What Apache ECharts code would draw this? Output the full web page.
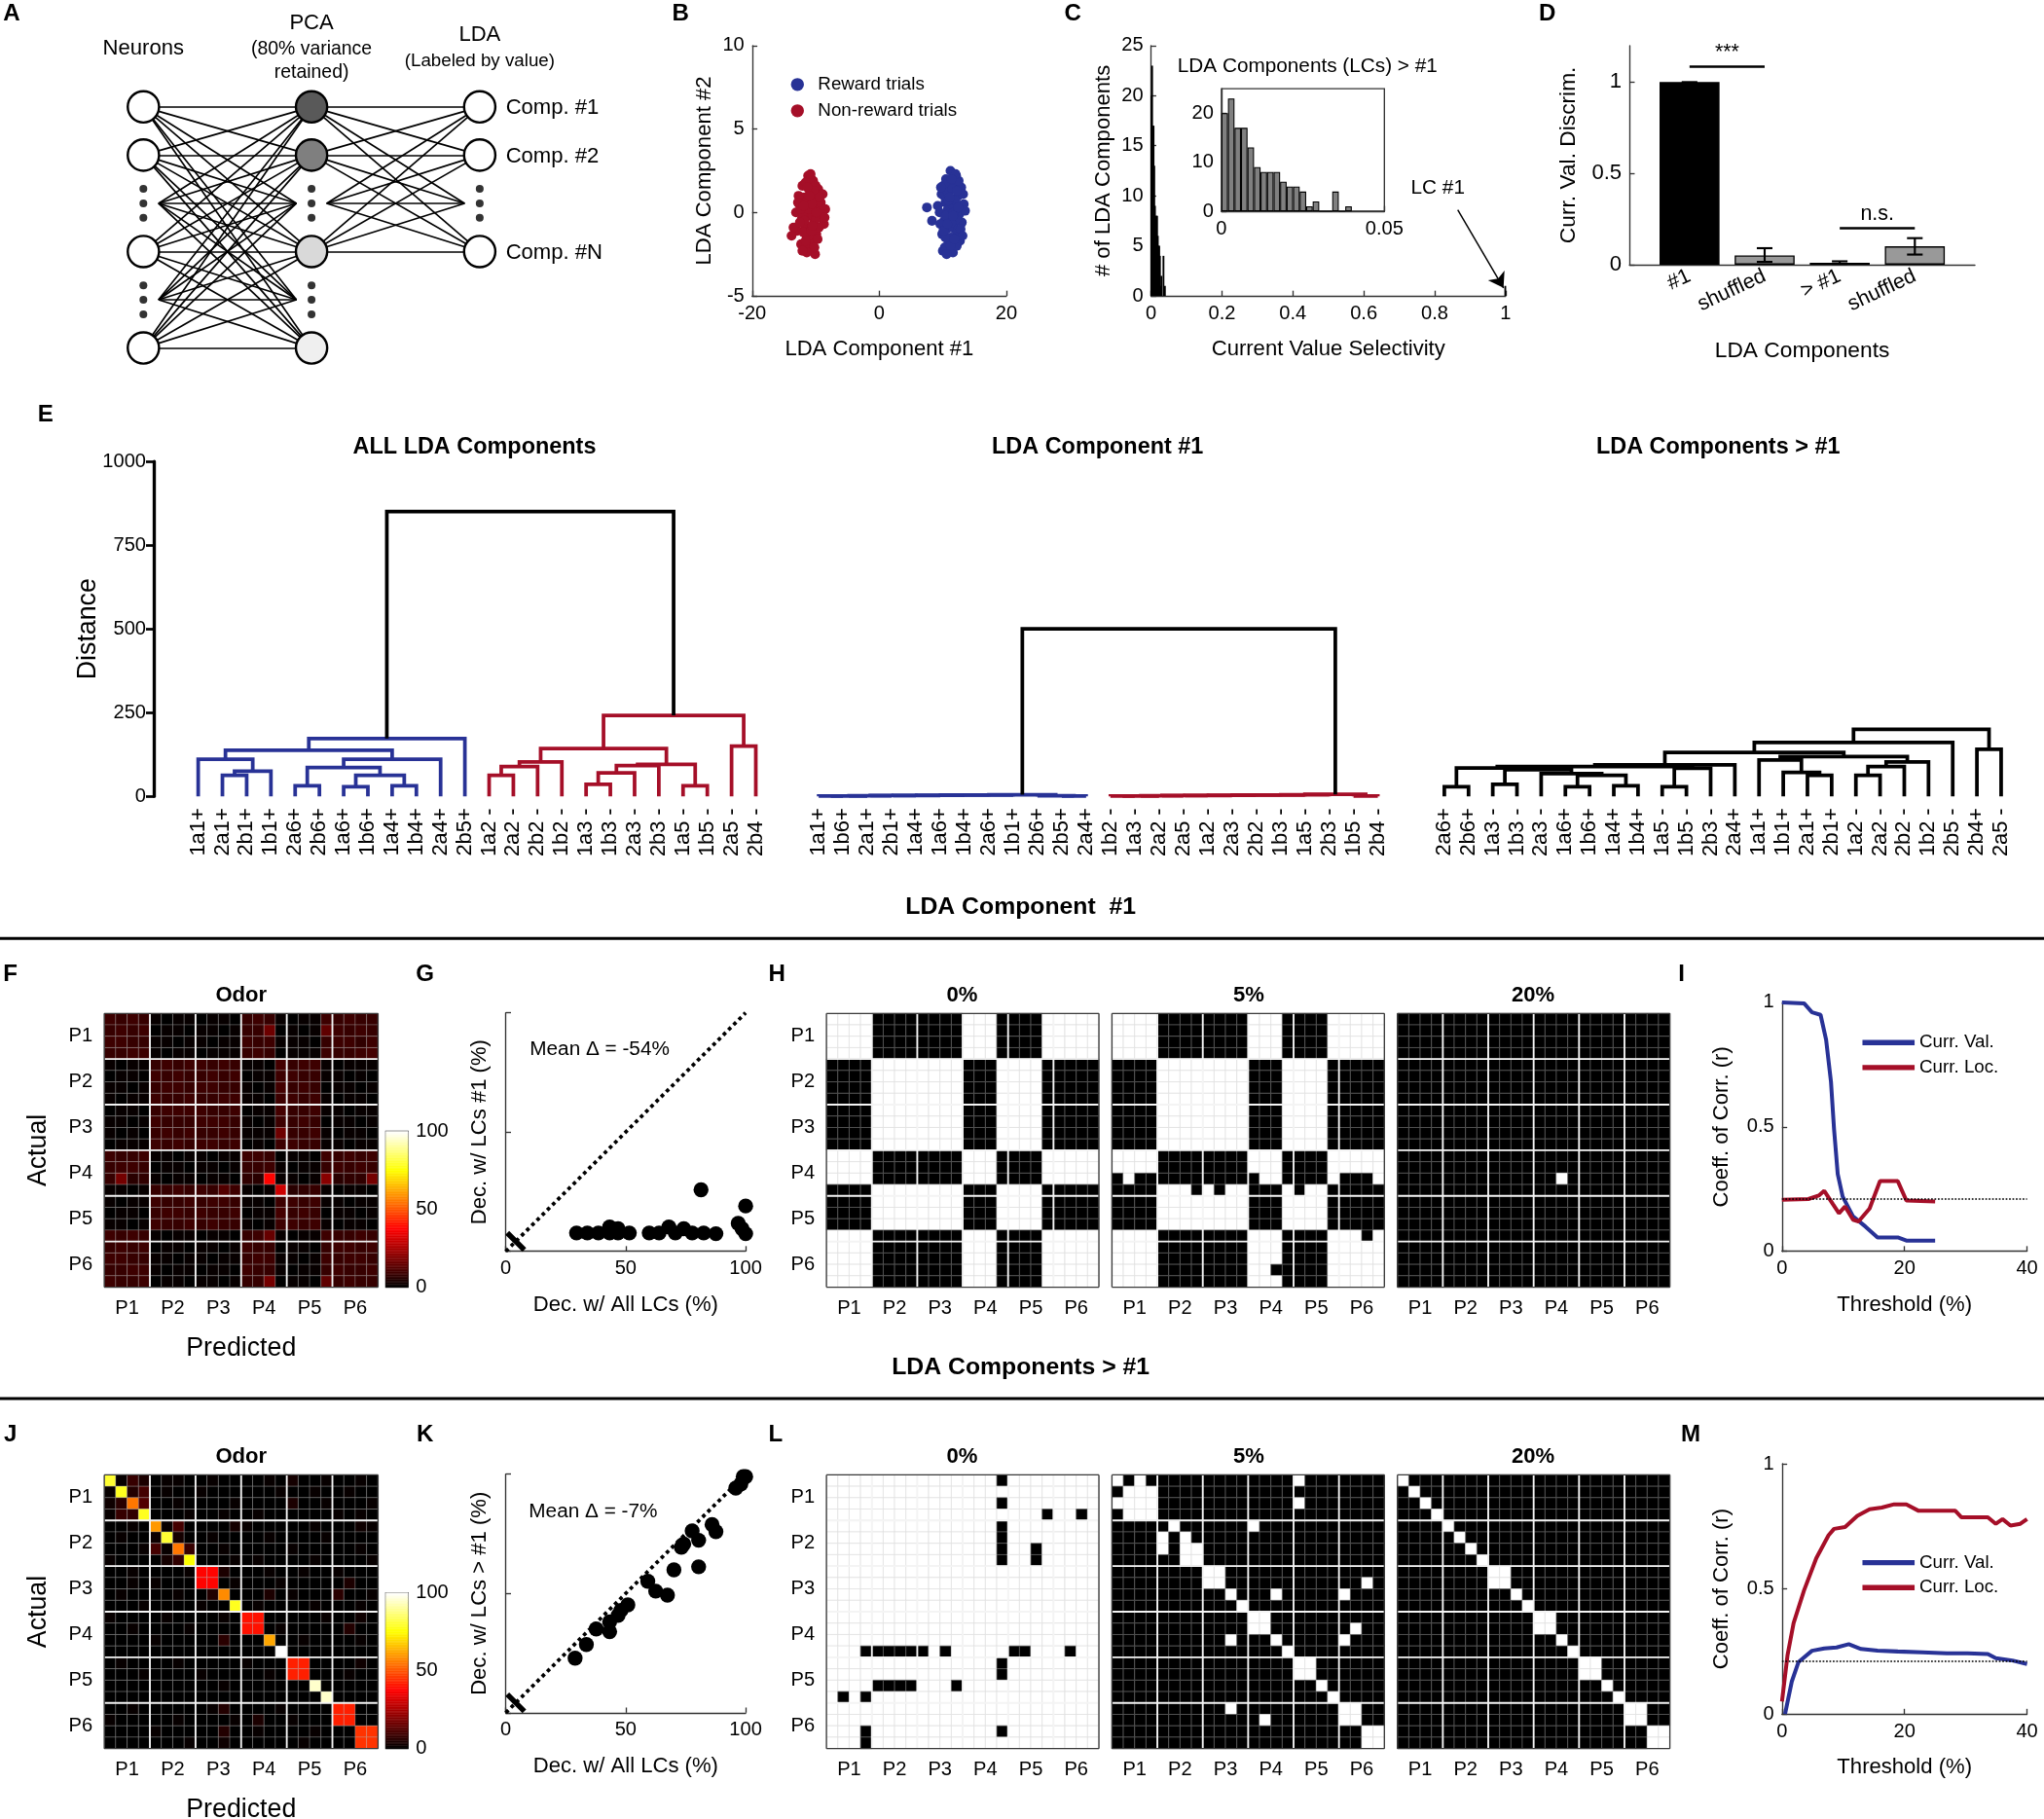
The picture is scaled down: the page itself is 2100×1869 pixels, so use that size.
<!DOCTYPE html>
<html><head><meta charset="utf-8">
<script src="https://cdn.jsdelivr.net/npm/echarts@6/dist/echarts.min.js"></script>
<style>html,body{margin:0;padding:0;background:#fff}#c{width:2100px;height:1869px}</style>
</head><body><div id="c"></div>
<script>
// ================= DATA =================
// Panel B: LDA projections
const blueTrials = [[11.2,2.5],[12.1,2.2],[10.5,2.0],[11.8,1.8],[10.1,1.6],[12.9,1.5],[11.0,1.3],[9.8,1.1],[12.4,1.0],[11.5,0.8],[10.4,0.6],[13.3,0.5],[11.9,0.3],[10.8,0.2],[7.5,0.3],[8.3,-0.5],[9.5,0.0],[12.6,-0.1],[11.1,-0.3],[10.2,-0.5],[13.0,-0.6],[11.7,-0.8],[10.6,-1.0],[12.3,-1.2],[9.9,-1.3],[11.3,-1.5],[10.9,-1.8],[12.7,-1.7],[10.3,-2.1],[11.6,-2.4],[12.2,-2.0],[10.0,-2.3],[11.4,0.5],[10.7,1.7],[12.0,0.7],[9.6,-0.7],[11.9,-1.0],[10.5,-0.2],[13.5,0.1],[11.0,-0.9],[12.5,1.9],[10.2,1.0],[11.7,0.0],[9.2,0.4],[12.8,-1.0],[11.2,-2.0],[10.8,1.2],[12.1,-0.4],[10.4,-1.5],[11.5,1.4],[13.1,-1.4],[10.9,0.7],[11.8,-1.6],[9.7,1.5],[12.4,0.3],[11.3,-0.6],[10.6,-2.5],[12.0,2.3],[11.1,0.9],[13.2,1.1],[10.1,-1.1],[11.6,-0.2],[12.2,1.3],[10.7,-0.7],[11.4,2.0]];
const redTrials = [[-11.2,2.2],[-10.4,1.9],[-12.1,1.6],[-9.6,1.4],[-10.9,1.2],[-11.8,0.9],[-8.9,1.1],[-10.2,0.8],[-12.6,0.5],[-11.5,0.4],[-9.8,0.3],[-10.6,0.1],[-13.1,0.0],[-11.0,-0.2],[-9.3,-0.3],[-12.2,-0.4],[-10.3,-0.6],[-11.7,-0.8],[-8.7,-0.7],[-10.8,-1.0],[-12.9,-1.1],[-9.9,-1.3],[-11.4,-1.5],[-10.5,-1.8],[-12.3,-1.9],[-11.0,-2.2],[-10.1,-2.5],[-10.7,2.0],[-11.6,1.8],[-9.2,0.6],[-13.5,-0.9],[-12.7,1.0],[-10.0,1.6],[-11.3,0.7],[-12.0,-0.1],[-9.5,-0.9],[-10.9,-1.4],[-11.9,-1.2],[-10.4,-0.2],[-8.5,0.2],[-13.8,-1.4],[-11.1,0.2],[-10.6,0.5],[-12.4,0.2],[-9.7,-1.6],[-11.5,-2.0],[-10.3,1.3],[-11.8,-0.5],[-10.0,-0.4],[-12.5,-0.6],[-9.0,-0.1],[-11.3,1.5],[-10.7,-1.1],[-11.6,-1.7],[-10.2,-2.1],[-12.8,0.6],[-9.4,0.9],[-11.0,1.0],[-10.5,-0.8],[-11.9,0.4],[-8.6,-0.3],[-10.8,2.3],[-11.4,-2.4],[-12.1,-2.3],[-9.9,0.0]];

// Panel C: selectivity histogram of LCs > #1 (bin width 0.002) and LC #1
const selBinWidth = 0.002;
const selCounts = [20,23,17,17,13,9,8,8,8,6,5,5,4,1,2,0,0,4,0,1];
const lc1Selectivity = [0.999, 1];

// Panel D
const dCategories = ['#1','shuffled','> #1','shuffled'];
const dValues = [1.0, 0.05, 0.01, 0.10];
const dErrLow = [0.995, 0.015, 0.004, 0.055];
const dErrHigh = [1.0, 0.09, 0.018, 0.145];
const dSigLabels = ['***','n.s.'];
const dSigPairs = [[1,2],[3,4]];
const dSigLevels = [1.085, 0.2];

// Panel E dendrograms: merges [childA, childB, height, colour]
const leavesAll = ['1a1+','2a1+','2b1+','1b1+','2a6+','2b6+','1a6+','1b6+','1a4+','1b4+','2a4+','2b5+','1a2 -','2a2 -','2b2 -','1b2 -','1a3 -','1b3 -','2a3 -','2b3 -','1a5 -','1b5 -','2a5 -','2b4 -'];
const mergesAll = [[1,2,63,'b'],[24,3,75,'b'],[0,25,111,'b'],[4,5,32,'b'],[6,7,29,'b'],[8,9,32,'b'],[28,29,63,'b'],[27,30,86,'b'],[31,10,111,'b'],[26,32,138,'b'],[33,11,173,'b'],
 [12,13,63,'r'],[35,14,89,'r'],[36,15,103,'r'],[16,17,36,'r'],[38,18,70,'r'],[39,19,92,'r'],[20,21,32,'r'],[40,41,96,'r'],[37,42,143,'r'],[22,23,150,'r'],[43,44,242,'r'],[34,45,850,'k']];
const leavesLC1 = ['1a1+','1b6+','2a1+','2b1+','1a4+','1a6+','1b4+','2a6+','1b1+','2b6+','2b5+','2a4+','1b2 -','1a3 -','2a2 -','2a5 -','1a2 -','2a3 -','2b2 -','1b3 -','1a5 -','2b3 -','1b5 -','2b4 -'];
const mergesLC1 = [[0,1,1,'b'],[24,2,1.5,'b'],[25,3,2,'b'],[26,4,2.5,'b'],[27,5,3,'b'],[28,6,3.5,'b'],[29,7,4,'b'],[30,8,4.5,'b'],[10,11,1,'b'],[9,32,2,'b'],[31,33,5,'b'],
 [12,13,1,'r'],[35,14,1.5,'r'],[36,15,2,'r'],[37,16,2.5,'r'],[38,17,3,'r'],[39,18,3.5,'r'],[40,19,4,'r'],[41,20,4.5,'r'],[42,21,5,'r'],[22,23,1,'r'],[43,44,6,'r'],[34,45,500,'k']];
const leavesRest = ['2a6+','2b6+','1a3 -','1b3 -','2a3 -','1a6+','1b6+','1a4+','1b4+','1a5 -','1b5 -','2b3 -','2a4+','1a1+','1b1+','2a1+','2b1+','1a2 -','2a2 -','2b2 -','1b2 -','2b5 -','2b4+','2a5 -'];
const mergesRest = [[0,1,29,'k'],[2,3,36,'k'],[5,6,29,'k'],[7,8,32,'k'],[26,27,63,'k'],[4,28,68,'k'],[25,29,80,'k'],[24,30,85,'k'],[9,10,29,'k'],[32,11,84,'k'],[31,33,89,'k'],[34,12,94,'k'],
 [15,16,63,'k'],[14,36,72,'k'],[13,37,109,'k'],[17,18,63,'k'],[39,19,89,'k'],[40,20,103,'k'],[38,41,119,'k'],[35,42,131,'k'],[43,21,161,'k'],[22,23,141,'k'],[44,45,200,'k']];
const distTicks = [0,250,500,750,1000];

// Panel F / J confusion matrices (% of trials), rows = actual, cols = predicted
const posLabels = ['P1','P2','P3','P4','P5','P6'];
const confF = [
[9,8,9,8,1,0,1,1,0,1,1,0,8,9,8,1,0,1,1,9,8,9,8,8],
[8,9,8,9,0,1,1,0,1,1,0,1,8,8,16,0,1,0,1,14,9,8,9,8],
[9,9,8,8,1,1,0,1,1,0,1,1,9,8,9,1,1,1,0,8,9,9,7,9],
[8,8,9,9,1,0,1,1,0,1,1,1,8,9,8,0,1,1,1,9,8,8,9,10],
[1,0,1,1,8,9,8,9,9,8,9,8,1,1,0,10,8,9,9,1,0,1,1,1],
[0,1,1,0,9,8,9,8,8,9,8,9,0,1,1,9,9,8,8,1,1,0,1,0],
[1,1,0,1,8,9,9,8,9,9,8,8,1,0,1,10,8,9,8,0,1,1,0,1],
[1,0,1,1,9,8,8,9,8,8,9,9,1,1,0,9,9,8,9,1,0,1,1,0],
[0,1,1,0,8,9,9,9,9,8,8,9,0,1,1,10,8,8,9,1,1,0,1,1],
[1,1,0,1,9,8,8,8,9,9,9,8,1,0,1,9,8,9,8,0,1,1,0,1],
[1,0,1,0,8,9,8,9,8,8,9,8,1,1,1,16,8,8,9,1,0,1,1,0],
[0,1,1,1,9,8,9,8,9,9,8,9,0,1,0,9,9,8,8,1,1,0,1,1],
[9,8,8,9,1,1,0,1,1,0,1,1,9,9,8,0,1,1,0,9,8,9,8,9],
[8,9,9,8,0,1,1,0,1,1,0,1,8,8,9,1,0,1,1,8,9,8,9,8],
[8,17,6,7,1,0,1,1,0,1,1,0,7,6,38,1,1,0,1,20,6,7,7,17],
[1,1,0,1,8,8,9,8,9,8,12,9,1,0,1,30,6,7,8,1,0,1,1,0],
[1,0,1,1,9,8,8,9,8,9,9,8,1,1,0,9,9,8,9,1,1,0,1,1],
[0,1,1,0,8,9,9,8,9,8,8,9,0,1,1,10,8,9,8,0,1,1,0,1],
[1,1,0,1,9,8,8,9,8,9,8,8,1,0,1,9,9,8,9,1,0,1,1,0],
[9,8,9,8,1,0,1,1,0,1,1,0,8,9,15,1,0,1,1,9,8,8,9,8],
[8,9,8,9,0,1,1,0,1,1,0,1,9,8,8,0,1,1,0,8,9,9,8,9],
[9,9,8,8,1,1,0,1,1,0,1,1,8,9,9,1,1,0,1,9,8,9,9,8],
[8,8,9,9,1,0,1,1,0,1,1,0,9,8,8,1,0,1,1,8,9,8,8,9],
[9,8,8,9,0,1,1,0,1,1,0,1,8,8,17,0,1,1,0,14,8,9,8,8]];
const confJ = [
[80,1,8,4,0,1,1,0,0,1,0,0,0,0,1,0,3,0,0,1,0,0,1,0],
[1,78,5,10,0,1,0,0,1,0,0,0,0,0,0,1,0,0,1,0,0,1,0,0],
[2,6,55,12,0,0,1,0,0,0,0,1,0,0,0,0,4,0,0,1,0,0,0,1],
[1,8,7,78,0,0,0,1,0,0,1,0,0,1,0,0,0,0,0,0,1,0,1,0],
[0,0,1,0,60,1,10,0,0,0,0,3,1,0,0,0,0,0,1,0,0,0,2,1],
[0,1,0,0,2,80,3,0,0,1,0,0,0,0,1,0,0,0,0,1,0,0,0,0],
[0,0,0,1,10,1,55,8,0,0,1,0,0,0,0,0,1,0,0,0,0,0,1,0],
[1,0,0,0,0,3,7,75,0,0,0,1,0,1,0,0,0,0,1,0,0,0,0,1],
[0,0,1,0,0,0,0,1,38,38,4,0,0,0,1,0,0,1,0,0,1,0,0,0],
[0,0,1,0,1,0,0,0,38,38,0,1,0,0,0,1,0,0,0,0,0,4,0,0],
[0,1,0,0,0,0,1,0,0,5,58,0,0,0,4,0,1,0,0,0,6,0,0,1],
[0,0,0,1,0,0,0,0,1,0,0,78,0,1,0,0,0,0,1,0,0,0,1,0],
[1,0,0,0,0,1,0,0,0,0,1,0,40,40,0,0,0,0,0,1,0,0,2,0],
[0,0,1,0,0,0,0,1,0,0,0,0,40,40,0,1,0,0,0,0,0,5,0,0],
[0,0,0,0,1,0,0,0,0,0,6,0,0,0,62,0,0,1,0,0,0,0,1,0],
[0,0,0,0,0,0,0,0,0,0,0,0,0,0,0,100,0,0,0,0,0,0,0,0],
[0,1,0,0,0,0,1,0,0,0,0,0,1,0,0,0,42,42,0,0,0,0,2,0],
[0,0,0,1,0,0,0,0,1,0,0,0,0,0,1,0,42,42,0,0,0,1,0,0],
[0,0,0,0,0,0,0,0,0,0,1,0,0,0,0,0,0,0,95,0,0,0,0,0],
[0,0,0,0,0,0,0,0,0,0,0,0,0,0,0,0,0,0,0,95,0,0,0,0],
[0,0,1,0,0,0,0,0,0,1,5,0,0,0,0,1,0,0,0,0,42,42,0,0],
[1,0,0,0,0,0,1,0,0,0,0,1,0,4,0,0,1,0,0,0,42,42,0,0],
[0,0,0,0,1,0,0,0,0,0,5,0,0,1,0,0,0,0,1,0,0,0,45,45],
[0,0,0,0,0,0,0,1,0,0,2,0,0,0,0,0,0,1,0,0,0,0,45,45]];

// Panels H / L: thresholded matrices (1 = above threshold, white)
const threshTitles = ['0%','5%','20%'];
const binH0 = ['111100000000111000011111','111100000000111000011111','111100000000111000011111','111100000000111000011111',
'000011111111000111100000','000011111111000111100000','000011111111000111100000','000011111111000111100000',
'000011111111000111100000','000011111111000111100000','000011111111000111100000','000011111111000111100000',
'111100000000111000011111','111100000000111000011111','111100000000111000011111','000011111111000111100000',
'000011111111000111100000','000011111111000111100000','000011111111000111100000','111100000000111000011111',
'111100000000111000011111','111100000000111000011111','111100000000111000011111','111100000000111000011111'];
const binH5 = ['111100000000111000011111','111100000000111000011111','111100000000111000011111','111100000000111000011111',
'000011111111000111100000','000011111111000111100000','000011111111000111100000','000011111111000111100000',
'000011111111000111100000','000011111111000111100000','000011111111000111100000','000011111111000111100000',
'111100000000111000011111','111100000000111000011111','010000000000011000010001','000011101011000101100000',
'000011111111000111100000','000011111111000111100000','000011111111000111100000','111100000000111000011101',
'111100000000111000011111','111100000000111000011111','111100000000110000011111','111100000000111000011111'];
const binH20 = ['000000000000000000000000','000000000000000000000000','000000000000000000000000','000000000000000000000000',
'000000000000000000000000','000000000000000000000000','000000000000000000000000','000000000000000000000000',
'000000000000000000000000','000000000000000000000000','000000000000000000000000','000000000000000000000000',
'000000000000000000000000','000000000000000000000000','000000000000001000000000','000000000000000000000000',
'000000000000000000000000','000000000000000000000000','000000000000000000000000','000000000000000000000000',
'000000000000000000000000','000000000000000000000000','000000000000000000000000','000000000000000000000000'];
const binL0 = ['111111111111111011111111','111111111111111111111111','111111111111111011111111','111111111111111111101101',
'111111111111111011111111','111111111111111011111111','111111111111111011011111','111111111111111011011111',
'111111111111111111111111','111111111111111111111111','111111111111111111111111','111111111111111111111111',
'111111111111111111111111','111111111111111111111111','111111111111111111111111','111000000101111100111011',
'111111111111111011111111','111111111111111011111111','111100001110111111111111','101011111111111111111111',
'111111111111111111111111','111111111111111111111111','111011111111111011111111','111011111111111111111111'];
const binL5 = ['101000000000000010000000','011100000000000000000000','111100000000000010000000','011100000000000000000000',
'000001000000100000000000','000010100000000000000000','000010110000000000000000','000000110000000000000000',
'000000001100000000000000','000000001100000000000010','000000000010001000001000','000000000001000000000000',
'000000000000110000000000','000000000000110000000100','000000000010001000001000','000000000000000100000000',
'000000000000000011000000','000000000000000011000000','000000000000000000100000','000000000000000000010000',
'000000000010000000001100','000000000000010000001100','000000000000000000000011','000000000000000000000011'];
const binL20 = ['100000000000000000000000','010000000000000000000000','001000000000000000000000','000100000000000000000000',
'000010000000000000000000','000001000000000000000000','000000100000000000000000','000000010000000000000000',
'000000001100000000000000','000000001100000000000000','000000000010000000000000','000000000001000000000000',
'000000000000110000000000','000000000000110000000000','000000000000001000000000','000000000000000100000000',
'000000000000000011000000','000000000000000011000000','000000000000000000100000','000000000000000000010000',
'000000000000000000001100','000000000000000000001100','000000000000000000000011','000000000000000000000011'];

// Panels G / K: decoding accuracy comparison
const chanceDec = 4.17;
const decG = [[29.5,7.7],[34,7.7],[38.6,7.7],[43.3,10.2],[43.3,7.7],[46.8,9.5],[46.8,7.7],[51.5,7.7],[59.8,7.7],[63.9,7.7],[68,10.2],[70.7,7.7],[74.2,9.5],[77.7,7.7],[82.5,7.7],[87.6,7.4],[81.4,25.8],[96.9,11.7],[98.5,9.5],[100,7.4],[100,19]];
const decK = [[28.9,22.9],[33.6,28.6],[37.7,35.1],[43.3,34],[43.3,38.1],[46.8,40.8],[48,42.9],[50.9,45.2],[59.2,55.1],[62.5,51],[67.4,49.3],[70.1,59.9],[73.2,69.4],[74.2,70.7],[77.7,76.2],[80.4,61.2],[80.4,72.3],[86,78.9],[87.6,75.9],[95.9,94.2],[98,95.9],[99,99],[100,99]];
const meanDeltaG = '-54%', meanDeltaK = '-7%';

// Panels I / M: correlation vs threshold
const valCurveI = [[0,1.0],[3.6,0.996],[4.9,0.96],[6.3,0.95],[7.2,0.85],[8,0.68],[8.5,0.49],[9.1,0.31],[9.9,0.22],[11.6,0.14],[13.6,0.10],[15.6,0.056],[18.9,0.056],[20.3,0.043],[25,0.043]];
const locCurveI = [[0,0.207],[4.3,0.21],[6,0.224],[6.9,0.243],[8.3,0.19],[9.3,0.153],[10.3,0.18],[11.6,0.127],[12.5,0.12],[14.3,0.172],[16,0.282],[18.9,0.282],[20.3,0.204],[25,0.2]];
const valCurveM = [[0.5,0.0],[1.6,0.13],[2.7,0.208],[4.9,0.253],[6.9,0.262],[8.9,0.266],[10.9,0.279],[12.9,0.26],[15.6,0.253],[18.9,0.25],[22.9,0.247],[26.9,0.243],[30.3,0.243],[33.6,0.24],[34.9,0.223],[37.6,0.214],[40,0.2]];
const locCurveM = [[0,0.05],[0.9,0.234],[1.9,0.364],[3.6,0.494],[5.6,0.623],[7.6,0.714],[8.5,0.74],[10.3,0.747],[12.3,0.792],[14.3,0.818],[16.3,0.825],[18.3,0.838],[20.3,0.838],[22.3,0.812],[25,0.812],[28.3,0.812],[29.3,0.786],[33.6,0.786],[34.9,0.76],[36,0.779],[37.3,0.753],[38.9,0.76],[40,0.779]];
const chanceCorrI = 0.21, chanceCorrM = 0.208;

// Panel A network diagram structure (layer, rows)
const circleRows = [[0,1,3,5],[0,1,3,5],[0,1,3]];
const dotRows = [[2,4],[2,4],[2]];
const pcaFill = ['#595959','#7f7f7f','#d9d9d9','#efefef'];
const linkRows = [[[0,1,2,3,4,5],[0,1,2,3,4,5]],[[0,1,2,3],[0,1,2,3]]];
const compLabels = ['Comp. #1','Comp. #2','Comp. #N'];

// ================= LAYOUT / STYLE =================
const S = 2100/1568;
const P = v => v*S;
const FONT = '"Liberation Sans", Arial, Helvetica, sans-serif';
const BLUE = '#283296', RED = '#a50f28';
const DCOL = {b:BLUE, r:RED, k:'#000'};
const hotStops = ['#000000','#550000','#aa0000','#ff0000','#ff5500','#ffaa00','#ffff00','#ffff80','#ffffff'];

function merge(a,b){const o=Object.assign({},a);for(const k in b){if(b[k]&&typeof b[k]==='object'&&!Array.isArray(b[k])&&a[k]&&typeof a[k]==='object'&&!Array.isArray(a[k]))o[k]=merge(a[k],b[k]);else o[k]=b[k];}return o;}

const GR = [
 [110,82,258,185],[577,35,195,192],[883,35,272,192],[937,68,125,94],[1250,35,265,168],
 [118,354,471.1,257],[618.7,354,447.6,257],[1098.7,354,445.7,257],
 [80,777.5,210,210],[296,868,17,119.5],[388,777,184,183],[634,777.5,209,210],[853,777.5,209,210],[1072,777.5,209,210],[1367,769,188,191],
 [80,1131.5,210,210],[296,1222,17,119.5],[388,1131,184,183],[634,1131.5,209,210],[853,1131.5,209,210],[1072,1131.5,209,210],[1367,1123,188,192]];
const grids = GR.map((g,i)=>({left:P(g[0]),top:P(g[1]),width:P(g[2]),height:P(g[3]),outerBoundsMode:'none',containLabel:false,
  show:(i===3||i===9||i===16), borderColor:'#333', borderWidth:P(1), backgroundColor:'transparent'}));

const AX = {type:'value', axisLine:{show:true,onZero:false,lineStyle:{color:'#333',width:P(1)}},
 axisTick:{show:true,inside:true,length:P(4),lineStyle:{color:'#333',width:P(1)}},
 axisLabel:{show:true,color:'#000',fontSize:P(15),fontFamily:FONT,margin:P(6)},
 splitLine:{show:false}, nameLocation:'middle', nameMoveOverlap:false,
 nameTextStyle:{color:'#000',fontSize:P(16.5),fontFamily:FONT}};
const HID = {type:'value', show:false, splitLine:{show:false}};
const ax = o => merge(AX,o);
const blockTicks = [2,6,10,14,18,22];
const posAxis = (extra) => ax(merge({min:0,max:24,axisLine:{show:false},axisTick:{show:false},
  axisLabel:{customValues:blockTicks,formatter:v=>posLabels[Math.round((v-2)/4)],margin:P(9)}},extra||{}));

const xAxes = [], yAxes = [];
function setAx(i,x,y){xAxes[i]=merge(x,{gridIndex:i});yAxes[i]=merge(y,{gridIndex:i});}
setAx(0, merge(HID,{min:0,max:2}), merge(HID,{min:0,max:5,inverse:true}));
setAx(1, ax({min:-20,max:20,interval:20,name:'LDA Component #1',nameGap:P(33)}), ax({min:-5,max:10,interval:5,name:'LDA Component #2',nameGap:P(28)}));
setAx(2, ax({min:0,max:1,interval:0.2,name:'Current Value Selectivity',nameGap:P(33)}), ax({min:0,max:25,interval:5,name:'# of LDA Components',nameGap:P(28)}));
setAx(3, ax({min:0,max:0.05,axisLabel:{customValues:[0,0.05]},axisTick:{customValues:[0,0.05]}}), ax({min:0,max:25,axisLabel:{customValues:[0,10,20]},axisTick:{customValues:[0,10,20]}}));
setAx(4, ax({min:0.2,max:4.8,axisTick:{show:false},axisLabel:{customValues:[1,2,3,4],formatter:v=>dCategories[Math.round(v)-1],rotate:25,fontSize:P(16),margin:P(8)},name:'LDA Components',nameGap:P(58),nameTextStyle:{fontSize:P(17)}}),
  ax({min:0,max:1.2,axisLabel:{customValues:[0,0.5,1],fontSize:P(16.5)},axisTick:{customValues:[0,0.5,1]},name:'Curr. Val. Discrim.',nameGap:P(38),nameTextStyle:{fontSize:P(17)}}));
const leafAxis = (leaves,min) => ax({min:min,max:23.5,axisLine:{show:false},axisTick:{show:false},
  axisLabel:{customValues:leaves.map((_,i)=>i),formatter:v=>leaves[Math.round(v)],rotate:90,fontSize:P(16.3),margin:P(9)}});
setAx(5, leafAxis(leavesAll,-1.83), ax({min:0,max:1000,axisLabel:{customValues:distTicks,formatter:v=>String(v)},axisTick:{customValues:distTicks,inside:false,length:P(6),lineStyle:{color:'#000',width:P(2)}},axisLine:{lineStyle:{color:'#000',width:P(2.5)}},name:'Distance',nameGap:P(40),nameTextStyle:{fontSize:P(20)}}));
setAx(6, leafAxis(leavesLC1,-0.5), merge(HID,{min:0,max:1000}));
setAx(7, leafAxis(leavesRest,-0.5), merge(HID,{min:0,max:1000}));
const cbX = merge(HID,{min:0,max:1});
const cbY = ax({min:0,max:100,position:'right',axisLine:{show:false},axisTick:{show:false},axisLabel:{customValues:[0,50,100],margin:P(6)}});
setAx(8, posAxis({name:'Predicted',nameGap:P(37),nameTextStyle:{fontSize:P(20)}}), posAxis({inverse:true,name:'Actual',nameGap:P(40),nameTextStyle:{fontSize:P(20)}}));
setAx(9, cbX, cbY);
setAx(10, ax({min:0,max:100,interval:50,name:'Dec. w/ All LCs (%)',nameGap:P(33)}), ax({min:0,max:100,interval:50,axisLabel:{show:false},name:'Dec. w/ LCs #1 (%)',nameGap:P(12)}));
setAx(11, posAxis(), posAxis({inverse:true}));
setAx(12, posAxis(), posAxis({inverse:true,axisLabel:{show:false}}));
setAx(13, posAxis(), posAxis({inverse:true,axisLabel:{show:false}}));
setAx(14, ax({min:0,max:40,interval:20,name:'Threshold (%)',nameGap:P(33)}), ax({min:0,max:1,interval:0.5,name:'Coeff. of Corr. (r)',nameGap:P(38)}));
setAx(15, posAxis({name:'Predicted',nameGap:P(37),nameTextStyle:{fontSize:P(20)}}), posAxis({inverse:true,name:'Actual',nameGap:P(40),nameTextStyle:{fontSize:P(20)}}));
setAx(16, cbX, cbY);
setAx(17, ax({min:0,max:100,interval:50,name:'Dec. w/ All LCs (%)',nameGap:P(33)}), ax({min:0,max:100,interval:50,axisLabel:{show:false},name:'Dec. w/ LCs > #1 (%)',nameGap:P(12)}));
setAx(18, posAxis(), posAxis({inverse:true}));
setAx(19, posAxis(), posAxis({inverse:true,axisLabel:{show:false}}));
setAx(20, posAxis(), posAxis({inverse:true,axisLabel:{show:false}}));
setAx(21, ax({min:0,max:40,interval:20,name:'Threshold (%)',nameGap:P(33)}), ax({min:0,max:1,interval:0.5,name:'Coeff. of Corr. (r)',nameGap:P(38)}));

// ================= SERIES =================
const series = [];
const add = s => { series.push(merge({silent:true,clip:false,animation:false},s)); return series.length-1; };
const on = i => ({xAxisIndex:i,yAxisIndex:i});

// Panel A
const endPt = (layer,row,side) => [dotRows[layer].indexOf(row)>=0 ? layer+side*0.09 : layer, row];
const edges = [];
linkRows.forEach((pair,L)=>{pair[0].forEach(r1=>pair[1].forEach(r2=>{edges.push({coords:[endPt(L,r1,1),endPt(L+1,r2,-1)]});}));});
add(merge(on(0),{type:'lines',coordinateSystem:'cartesian2d',data:edges,lineStyle:{color:'#000',width:P(1.25),opacity:1},z:1}));
const nodes = [];
circleRows.forEach((rows,L)=>rows.forEach((r,k)=>nodes.push({value:[L,r],itemStyle:{color:L===1?pcaFill[k]:'#fff'}})));
add(merge(on(0),{type:'scatter',data:nodes,symbolSize:P(24),itemStyle:{borderColor:'#000',borderWidth:P(1.8),opacity:1},z:3}));
const dots = [];
dotRows.forEach((rows,L)=>rows.forEach(r=>[-0.3,0,0.3].forEach(d=>dots.push([L,r+d]))));
add(merge(on(0),{type:'scatter',data:dots,symbolSize:P(6),itemStyle:{color:'#000'},z:3}));

// Panel B
add(merge(on(1),{type:'scatter',name:'Reward trials',data:blueTrials,symbolSize:P(7.5),itemStyle:{color:BLUE,opacity:1}}));
add(merge(on(1),{type:'scatter',name:'Non-reward trials',data:redTrials,symbolSize:P(7.5),itemStyle:{color:RED,opacity:1}}));

// Panel C
const selData = selCounts.map((c,i)=>[(i+0.5)*selBinWidth,c]).concat([lc1Selectivity]);
add(merge(on(2),{type:'bar',data:selData,barWidth:P(1.4),itemStyle:{color:'#000'},
  markLine:{silent:true,symbol:['none','arrow'],symbolSize:P(11),label:{show:false},lineStyle:{color:'#000',width:P(1.1),type:'solid'},
   data:[[{coord:[0.865,8.6]},{coord:[0.994,0.8]}]]}}));
add(merge(on(3),{type:'bar',data:selCounts.map((c,i)=>[(i+0.5)*selBinWidth,c]),barWidth:P(125*selBinWidth/0.05),itemStyle:{color:'#808080',borderColor:'#000',borderWidth:P(0.8)}}));

// Panel D
add(merge(on(4),{type:'bar',barWidth:P(46),data:dValues.map((v,i)=>({value:[i+1,v],itemStyle:{color:(i%2===0)?'#000':'#999',borderColor:'#000',borderWidth:P(1)}})),
  markLine:{silent:true,symbol:['none','none'],lineStyle:{color:'#000',width:P(2),type:'solid'},
   label:{show:true,formatter:'{b}',position:'insideMiddleTop',distance:P(3),color:'#000',fontSize:P(16),fontFamily:FONT},
   data:dSigPairs.map((p,k)=>[{name:dSigLabels[k],coord:[p[0],dSigLevels[k]]},{coord:[p[1],dSigLevels[k]]}])}}));
add(merge(on(4),{type:'custom',data:dValues.map((v,i)=>[i+1,dErrLow[i],dErrHigh[i]]),encode:{x:0,y:1},z:5,
  renderItem:(params,api)=>{const x=api.value(0);const a=api.coord([x,api.value(1)]),b=api.coord([x,api.value(2)]);const w=P(6);const st={stroke:'#000',lineWidth:P(1.6)};
   return {type:'group',children:[{type:'line',shape:{x1:a[0],y1:a[1],x2:b[0],y2:b[1]},style:st},{type:'line',shape:{x1:a[0]-w,y1:a[1],x2:a[0]+w,y2:a[1]},style:st},{type:'line',shape:{x1:b[0]-w,y1:b[1],x2:b[0]+w,y2:b[1]},style:st}]};}}));

// Panel E
function dendro(merges,n){const pos=[],hg=[];for(let i=0;i<n;i++){pos[i]=i;hg[i]=0;}const out=[];
 merges.forEach((m,k)=>{const [a,b,h,c]=m;out.push({coords:[[pos[a],hg[a]],[pos[a],h],[pos[b],h],[pos[b],hg[b]]],lineStyle:{color:DCOL[c]}});pos[n+k]=(pos[a]+pos[b])/2;hg[n+k]=h;});return out;}
[[5,mergesAll,leavesAll],[6,mergesLC1,leavesLC1],[7,mergesRest,leavesRest]].forEach(([gi,m,l])=>{
 add(merge(on(gi),{type:'lines',coordinateSystem:'cartesian2d',polyline:true,data:dendro(m,l.length),lineStyle:{width:P(2.8),opacity:1,join:'miter',cap:'butt'},z:3}));});

// heatmap helpers
const matData = M => { const d=[]; M.forEach((row,r)=>row.forEach((v,c)=>d.push([c,r,v]))); return d; };
const binData = B => { const d=[]; B.forEach((row,r)=>row.split('').forEach((ch,c)=>d.push([c,r,+ch]))); return d; };
const rectOf = (api,c,r) => {const a=api.coord([c,r]),b=api.coord([c+1,r+1]);return {x:Math.min(a[0],b[0]),y:Math.min(a[1],b[1]),width:Math.abs(b[0]-a[0]),height:Math.abs(b[1]-a[1])};};
const heatRender = (params,api) => ({type:'rect',shape:rectOf(api,api.value(0),api.value(1)),style:{fill:api.visual('color'),stroke:'rgba(170,170,170,0.45)',lineWidth:P(0.5)}});
const binRender = (params,api) => {const w=api.value(2)>0;return {type:'rect',shape:rectOf(api,api.value(0),api.value(1)),style:{fill:w?'#ffffff':'#000000',stroke:w?'#dedede':'#5e5e5e',lineWidth:P(0.5)}};};
const sepRender = (params,api) => {const b=api.value(0);const edge=(b===0||b===24);
 const v0=api.coord([b,0]),v1=api.coord([b,24]),h0=api.coord([0,b]),h1=api.coord([24,b]);
 const st={stroke:edge?'#3a3a3a':'#f4f4f4',lineWidth:edge?P(1):P(1.4)};
 return {type:'group',children:[{type:'line',shape:{x1:v0[0],y1:v0[1],x2:v1[0],y2:v1[1]},style:st},{type:'line',shape:{x1:h0[0],y1:h0[1],x2:h1[0],y2:h1[1]},style:st}]};};
const blockEdges = [[4,0],[8,0],[12,0],[16,0],[20,0],[0,0],[24,0]];
const cbRamp = []; for (let v=0; v<100; v++) cbRamp.push([0,v,v+0.5]);
const cbRender = (params,api) => ({type:'rect',shape:rectOf(api,0,api.value(1)),style:{fill:api.visual('color'),stroke:api.visual('color'),lineWidth:0.5}});
const heatIdx = [];
function heatPanel(gi,cbi,M){heatIdx.push(add(merge(on(gi),{type:'custom',data:matData(M),encode:{x:0,y:1},renderItem:heatRender,z:2})));
 add(merge(on(gi),{type:'custom',data:blockEdges,encode:{x:0,y:1},renderItem:sepRender,z:4}));
 heatIdx.push(add(merge(on(cbi),{type:'custom',data:cbRamp,encode:{x:0,y:1},renderItem:cbRender,z:2})));}
function binPanel(gi,B){add(merge(on(gi),{type:'custom',data:binData(B),encode:{x:0,y:1},renderItem:binRender,z:2}));
 add(merge(on(gi),{type:'custom',data:blockEdges,encode:{x:0,y:1},renderItem:sepRender,z:4}));}
// chance marker: a short thick stroke perpendicular to the identity line ("\")
const chanceSymbol = 'path://M0,4L4,0L22,18L18,22Z';
function decPanel(gi,pts){
 add(merge(on(gi),{type:'line',data:[[0,0],[100,100]],showSymbol:false,lineStyle:{color:'#000',width:P(2.8),type:'dotted'},z:2}));
 add(merge(on(gi),{type:'scatter',data:pts,symbolSize:P(11.5),itemStyle:{color:'#000',opacity:1},z:3}));
 add(merge(on(gi),{type:'scatter',data:[[chanceDec,chanceDec]],symbol:chanceSymbol,symbolSize:[P(16),P(16)],symbolKeepAspect:true,itemStyle:{color:'#000',opacity:1},z:4}));}
function corrPanel(gi,val,loc,chance){
 add(merge(on(gi),{type:'line',name:'Curr. Val.',data:val,showSymbol:false,lineStyle:{color:BLUE,width:P(3)},itemStyle:{color:BLUE},z:3,
  markLine:{silent:true,symbol:['none','none'],label:{show:false},lineStyle:{color:'#000',width:P(1.3),type:'dotted'},data:[{yAxis:chance}]}}));
 add(merge(on(gi),{type:'line',name:'Curr. Loc.',data:loc,showSymbol:false,lineStyle:{color:RED,width:P(3)},itemStyle:{color:RED},z:3}));}

heatPanel(8,9,confF); decPanel(10,decG);
binPanel(11,binH0); binPanel(12,binH5); binPanel(13,binH20);
corrPanel(14,valCurveI,locCurveI,chanceCorrI);
heatPanel(15,16,confJ); decPanel(17,decK);
binPanel(18,binL0); binPanel(19,binL5); binPanel(20,binL20);
corrPanel(21,valCurveM,locCurveM,chanceCorrM);

// ================= TEXT =================
const T = (text,x,y,size,opt) => ({type:'text',x:P(x),y:P(y),silent:true,z:50,style:{text:text,fill:'#000',font:(opt&&opt.bold?'bold ':'')+P(size)+'px '+FONT,textAlign:(opt&&opt.align)||'center',textVerticalAlign:'middle'}});
const graphic = [
 T('A',9,11,18,{bold:1}),T('B',522,11,18,{bold:1}),T('C',823,11,18,{bold:1}),T('D',1187,11,18,{bold:1}),T('E',35,318,18,{bold:1}),
 T('F',8,748,18,{bold:1}),T('G',326,748,18,{bold:1}),T('H',596,748,18,{bold:1}),T('I',1290,748,18,{bold:1}),
 T('J',8,1101,18,{bold:1}),T('K',326,1101,18,{bold:1}),T('L',595,1101,18,{bold:1}),T('M',1297,1101,18,{bold:1}),
 T('Neurons',110,37,16.5),T('PCA',239,18,16.5),T('(80% variance',239,38,14.5),T('retained)',239,56,14.5),
 T('LDA',368,27,16.5),T('(Labeled by value)',368,47,14),
 T(compLabels[0],388,83,16.5,{align:'left'}),T(compLabels[1],388,120,16.5,{align:'left'}),T(compLabels[2],388,194,16.5,{align:'left'}),
 T('LDA Components (LCs) > #1',1003,51,15.5),T('LC #1',1103,144,15.5),
 T('ALL LDA Components',364,343,17.5,{bold:1}),T('LDA Component #1',842,343,17.5,{bold:1}),T('LDA Components > #1',1318,343,17.5,{bold:1}),
 T('LDA Component  #1',783,696,18.5,{bold:1}),T('LDA Components > #1',783,1049,18.5,{bold:1}),
 T('Odor',185,764,16.5,{bold:1}),T('Odor',185,1118,16.5,{bold:1}),
 T(threshTitles[0],738,764,16.5,{bold:1}),T(threshTitles[1],958,764,16.5,{bold:1}),T(threshTitles[2],1176,764,16.5,{bold:1}),
 T(threshTitles[0],738,1118,16.5,{bold:1}),T(threshTitles[1],958,1118,16.5,{bold:1}),T(threshTitles[2],1176,1118,16.5,{bold:1}),
 T('Mean \u0394 = '+meanDeltaG,460,805,15.5),T('Mean \u0394 = '+meanDeltaK,455,1160,15.5),
 {type:'line',silent:true,shape:{x1:0,y1:P(720),x2:2100,y2:P(720)},style:{stroke:'#000',lineWidth:P(2.2)}},
 {type:'line',silent:true,shape:{x1:0,y1:P(1073),x2:2100,y2:P(1073)},style:{stroke:'#000',lineWidth:P(2.2)}}
];

const legTxt = {fontSize:P(14),fontFamily:FONT,color:'#000'};
const option = {
 animation:false, backgroundColor:'#fff', textStyle:{fontFamily:FONT},
 grid:grids, xAxis:xAxes, yAxis:yAxes, series:series, graphic:graphic,
 visualMap:{type:'continuous',show:false,min:0,max:100,dimension:2,seriesIndex:heatIdx,inRange:{color:hotStops}},
 legend:[
  {orient:'vertical',left:P(603),top:P(54),icon:'circle',itemWidth:P(10),itemHeight:P(10),itemGap:P(6),selectedMode:false,data:['Reward trials','Non-reward trials'],textStyle:merge(legTxt,{padding:[0,0,0,P(7)]})},
  {orient:'vertical',left:P(1425),top:P(789),icon:'rect',itemWidth:P(40),itemHeight:P(4),itemGap:P(5),selectedMode:false,data:['Curr. Val.','Curr. Loc.'],textStyle:legTxt},
  {orient:'vertical',left:P(1425),top:P(1188),icon:'rect',itemWidth:P(40),itemHeight:P(4),itemGap:P(5),selectedMode:false,data:['Curr. Val.','Curr. Loc.'],textStyle:legTxt}
 ]
};
const chart = echarts.init(document.getElementById('c'), null, {renderer:'canvas'});
chart.setOption(option);
</script></body></html>
